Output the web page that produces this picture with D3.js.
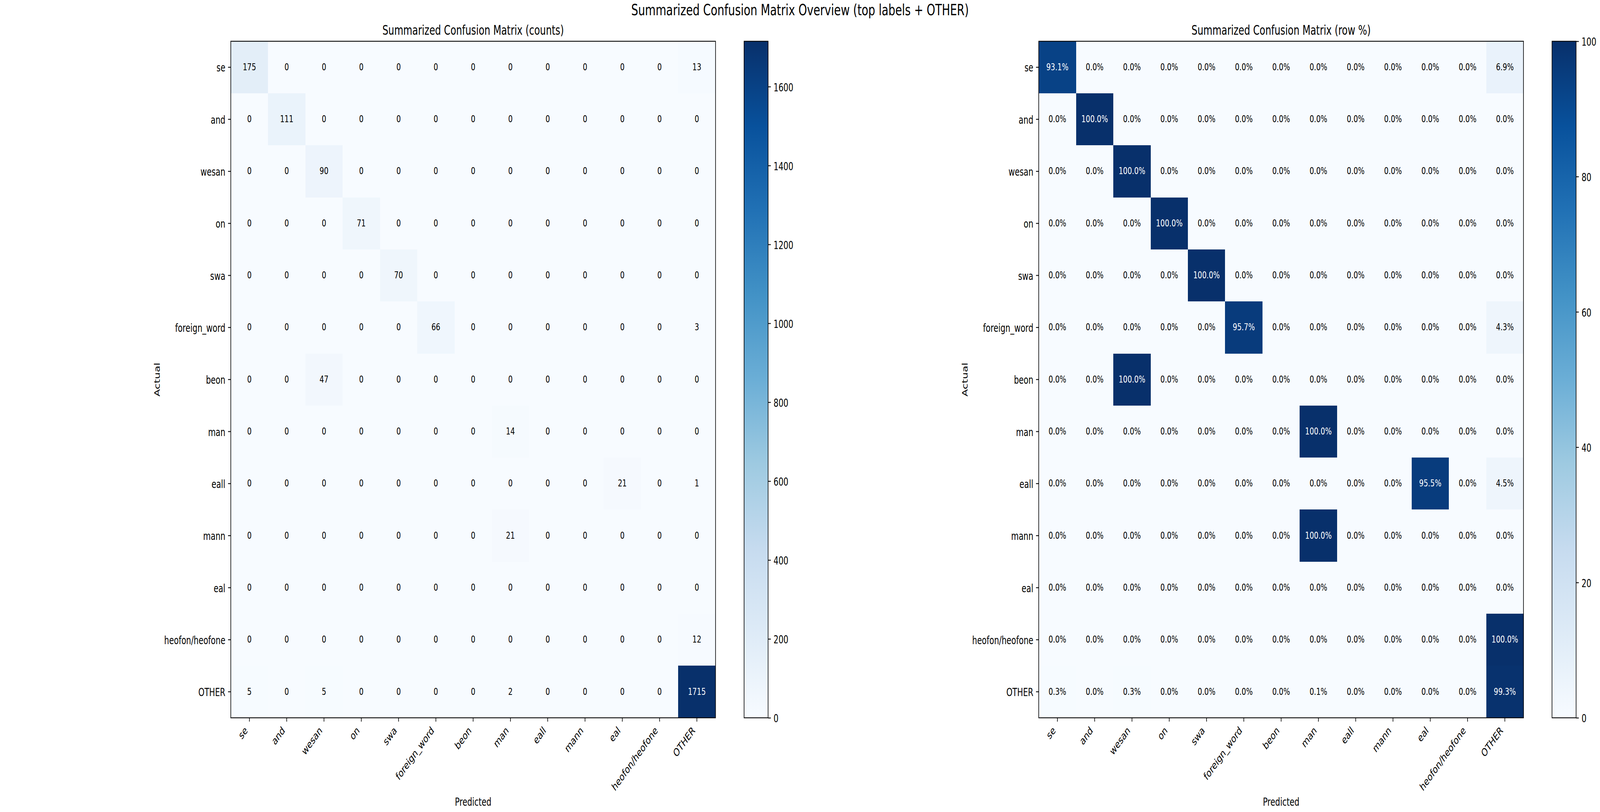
<!DOCTYPE html>
<html>
<head>
<meta charset="utf-8">
<script src="https://cdn.jsdelivr.net/npm/d3@7"></script>
<style>
html,body{margin:0;padding:0;background:#fff;width:100%;height:100%;overflow:hidden;}
svg{display:block;width:100vw;height:100vh;}
text{font-family:"DejaVu Sans",sans-serif;}
</style>
</head>
<body>
<svg id="chart" viewBox="0 0 5720 2080" preserveAspectRatio="none"></svg>
<script>
// ---------------- DATA ----------------
const labels = ["se","and","wesan","on","swa","foreign_word","beon","man","eall","mann","eal","heofon/heofone","OTHER"];

const counts = [
  [175,0,0,0,0,0,0,0,0,0,0,0,13],
  [0,111,0,0,0,0,0,0,0,0,0,0,0],
  [0,0,90,0,0,0,0,0,0,0,0,0,0],
  [0,0,0,71,0,0,0,0,0,0,0,0,0],
  [0,0,0,0,70,0,0,0,0,0,0,0,0],
  [0,0,0,0,0,66,0,0,0,0,0,0,3],
  [0,0,47,0,0,0,0,0,0,0,0,0,0],
  [0,0,0,0,0,0,0,14,0,0,0,0,0],
  [0,0,0,0,0,0,0,0,0,0,21,0,1],
  [0,0,0,0,0,0,0,21,0,0,0,0,0],
  [0,0,0,0,0,0,0,0,0,0,0,0,0],
  [0,0,0,0,0,0,0,0,0,0,0,0,12],
  [5,0,5,0,0,0,0,2,0,0,0,0,1715]
];

const rowPercent = [
  [93.1,0,0,0,0,0,0,0,0,0,0,0,6.9],
  [0,100,0,0,0,0,0,0,0,0,0,0,0],
  [0,0,100,0,0,0,0,0,0,0,0,0,0],
  [0,0,0,100,0,0,0,0,0,0,0,0,0],
  [0,0,0,0,100,0,0,0,0,0,0,0,0],
  [0,0,0,0,0,95.7,0,0,0,0,0,0,4.3],
  [0,0,100,0,0,0,0,0,0,0,0,0,0],
  [0,0,0,0,0,0,0,100,0,0,0,0,0],
  [0,0,0,0,0,0,0,0,0,0,95.5,0,4.5],
  [0,0,0,0,0,0,0,100,0,0,0,0,0],
  [0,0,0,0,0,0,0,0,0,0,0,0,0],
  [0,0,0,0,0,0,0,0,0,0,0,0,100],
  [0.3,0,0.3,0,0,0,0,0.1,0,0,0,0,99.3]
];

const countTicks = [0,200,400,600,800,1000,1200,1400,1600];
const percentTicks = [0,20,40,60,80,100];

const suptitleText = "Summarized Confusion Matrix Overview (top labels + OTHER)";
const titleCounts = "Summarized Confusion Matrix (counts)";
const titlePercent = "Summarized Confusion Matrix (row %)";
const xLabelText = "Predicted";
const yLabelText = "Actual";

// ---------------- STYLE / LAYOUT ----------------
const blues = ["#f7fbff","#deebf7","#c6dbef","#9ecae1","#6baed6","#4292c6","#2171b5","#08519c","#08306b"];
const TICK_FS = 27.8, ANN_FS = 25, TITLE_FS = 33.3, SUP_FS = 38.9;
const TICK_LEN = 9.7, TICK_PAD = 9.7, LW = 2.2;
const TOP = 105.7, SIZE = 1733;
const CB_GAP = 102, CB_W = 86;

const svg = d3.select("#chart");
svg.append("rect").attr("width",5720).attr("height",2080).attr("fill","#fff");

const defs = svg.append("defs");

svg.append("text")
  .attr("x", 2860).attr("y", 39)
  .attr("text-anchor","middle")
  .attr("font-size", SUP_FS)
  .text(suptitleText);

function drawPanel(x0, matrix, title, ticks, fmt, gid) {
  const vmax = d3.max(matrix.flat());
  const cmap = d3.scaleLinear()
    .domain(blues.map((_, i) => i / (blues.length - 1) * vmax))
    .range(blues)
    .interpolate(d3.interpolateRgb)
    .clamp(true);

  const x = d3.scaleBand().domain(labels).range([x0, x0 + SIZE]);
  const y = d3.scaleBand().domain(labels).range([TOP, TOP + SIZE]);
  const bottom = TOP + SIZE;

  const g = svg.append("g");

  const cells = [];
  matrix.forEach((row, i) => row.forEach((v, j) => cells.push({r: labels[i], c: labels[j], v})));

  g.selectAll("rect.cell").data(cells).join("rect")
    .attr("class","cell")
    .attr("x", d => x(d.c))
    .attr("y", d => y(d.r))
    .attr("width", x.bandwidth() + 0.5)
    .attr("height", y.bandwidth() + 0.5)
    .attr("fill", d => cmap(d.v))
    .attr("shape-rendering","crispEdges");

  g.selectAll("text.ann").data(cells).join("text")
    .attr("class","ann")
    .attr("x", d => x(d.c) + x.bandwidth() / 2)
    .attr("y", d => y(d.r) + y.bandwidth() / 2)
    .attr("dy", "0.3em")
    .attr("text-anchor","middle")
    .attr("font-size", ANN_FS)
    .attr("fill", d => d.v > vmax / 2 ? "#fff" : "#000")
    .text(d => fmt(d.v));

  g.append("rect")
    .attr("x", x0).attr("y", TOP).attr("width", SIZE).attr("height", SIZE)
    .attr("fill","none").attr("stroke","#000").attr("stroke-width", LW);

  const ya = g.append("g").attr("transform", `translate(${x0},0)`)
    .call(d3.axisLeft(y).tickSize(TICK_LEN).tickPadding(TICK_PAD));
  ya.select(".domain").remove();
  ya.selectAll("line").attr("stroke-width", LW);
  ya.selectAll("text").attr("font-size", TICK_FS).attr("font-family","DejaVu Sans").attr("dy","0.4em");
  ya.attr("font-size", null).attr("font-family", null);

  const xa = g.append("g").attr("transform", `translate(0,${bottom})`)
    .call(d3.axisBottom(x).tickSize(TICK_LEN).tickPadding(TICK_PAD));
  xa.select(".domain").remove();
  xa.selectAll("line").attr("stroke-width", LW);
  const ax = -0.167 * TICK_FS, ay = TICK_LEN + TICK_PAD + 0.537 * TICK_FS;
  xa.selectAll("text")
    .attr("font-size", TICK_FS).attr("font-family","DejaVu Sans")
    .attr("text-anchor","end")
    .attr("x", ax).attr("y", ay).attr("dy", null)
    .attr("transform", `rotate(-45,${ax},${ay})`);
  xa.attr("font-size", null).attr("font-family", null);

  g.append("text")
    .attr("x", x0 + SIZE / 2).attr("y", TOP - 16.7)
    .attr("text-anchor","middle").attr("font-size", TITLE_FS)
    .text(title);

  g.append("text")
    .attr("x", x0 + SIZE / 2).attr("y", 2064)
    .attr("text-anchor","middle").attr("font-size", TICK_FS)
    .text(xLabelText);
  g.append("text")
    .attr("transform", `translate(${x0 - 254},${TOP + SIZE / 2}) rotate(-90)`)
    .attr("text-anchor","middle").attr("font-size", TICK_FS)
    .text(yLabelText);

  const cbx = x0 + SIZE + CB_GAP;
  const grad = defs.append("linearGradient").attr("id", gid)
    .attr("x1",0).attr("y1",1).attr("x2",0).attr("y2",0);
  blues.forEach((c, i) => grad.append("stop")
    .attr("offset", i / (blues.length - 1)).attr("stop-color", c));
  g.append("rect").attr("x", cbx).attr("y", TOP).attr("width", CB_W).attr("height", SIZE)
    .attr("fill", `url(#${gid})`);
  g.append("rect").attr("x", cbx).attr("y", TOP).attr("width", CB_W).attr("height", SIZE)
    .attr("fill","none").attr("stroke","#000").attr("stroke-width", LW);

  const cy = d3.scaleLinear().domain([0, vmax]).range([bottom, TOP]);
  const ca = g.append("g").attr("transform", `translate(${cbx + CB_W},0)`)
    .call(d3.axisRight(cy).tickValues(ticks).tickFormat(d3.format("d")).tickSize(TICK_LEN).tickPadding(TICK_PAD));
  ca.select(".domain").remove();
  ca.selectAll("line").attr("stroke-width", LW);
  ca.selectAll("text").attr("font-size", TICK_FS).attr("font-family","DejaVu Sans").attr("dy","0.4em");
  ca.attr("font-size", null).attr("font-family", null);
}

drawPanel(825, counts, titleCounts, countTicks, v => String(v), "gradCounts");
drawPanel(3713.5, rowPercent, titlePercent, percentTicks, v => v.toFixed(1) + "%", "gradPct");
</script>
</body>
</html>
